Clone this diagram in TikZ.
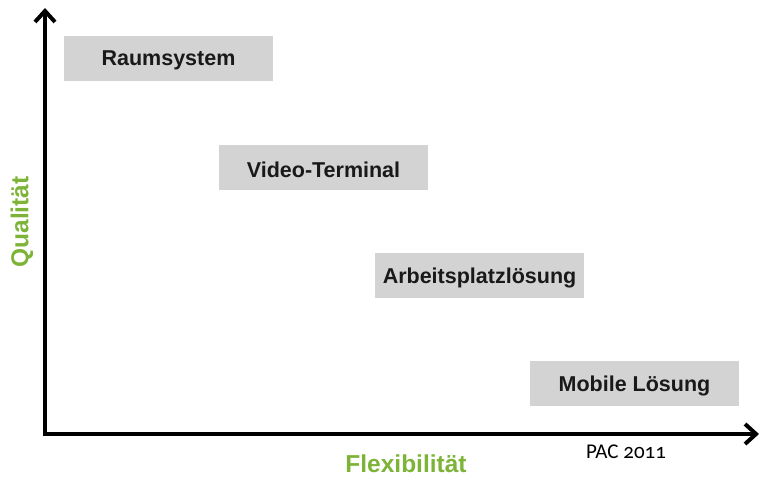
\documentclass[tikz,border=0pt]{standalone}
\usepackage{fontspec}
\setmainfont{Liberation Sans}
\newfontfamily\notefont[Numbers=OldStyle]{Carlito}
\usetikzlibrary{arrows.meta}
\definecolor{axisgreen}{RGB}{125,180,55}
\definecolor{boxgray}{RGB}{211,211,211}
\tikzset{
  catbox/.style={fill=boxgray, draw=none, minimum width=209pt, minimum height=45pt,
    inner sep=0pt, font=\fontsize{21.5}{24}\selectfont\bfseries, text=black!90},
  catlabel/.style={inner sep=0pt, font=\fontsize{21.5}{24}\selectfont\bfseries, text=black!90},
  axisline/.style={line width=4pt, -{Straight Barb[length=11pt,width=20pt,line width=4pt]}},
  axislabel/.style={text=axisgreen, font=\fontsize{24.5}{28}\selectfont\bfseries, inner sep=0pt},
}
\begin{document}
\begin{tikzpicture}[x=1pt,y=-1pt]
  \useasboundingbox (0,0) rectangle (762,477);
  % axes
  \coordinate (ytop) at (45,8);
  \coordinate (xend) at (759,434);
  \draw[axisline] (45,436) -- (ytop);
  \draw[axisline] (43,434) -- (xend);
  % axis labels
  \node[axislabel, rotate=90] (qual) at (22,222) {Qualität};
  \node[axislabel] (flex) at (406,464) {Flexibilität};
  \node[inner sep=0pt, font=\notefont\fontsize{21}{24}\selectfont] (src) at (626,452) {PAC 2011};
  % categories: grey boxes with their labels set a little below centre
  \node[catbox] (raum) at (168.5,58.5) {};
  \node[catlabel] at ([yshift=-2pt]raum.center) {Raumsystem};
  \node[catbox] (video) at (323.5,167.5) {};
  \node[catlabel] at ([yshift=-2pt]video.center) {Video-Terminal};
  \node[catbox] (arbeit) at (479.5,275.5) {};
  \node[catlabel] at ([yshift=-2pt]arbeit.center) {Arbeitsplatzlösung};
  \node[catbox] (mobil) at (634.5,383.5) {};
  \node[catlabel] at ([yshift=-2pt]mobil.center) {Mobile Lösung};
\end{tikzpicture}
\end{document}
